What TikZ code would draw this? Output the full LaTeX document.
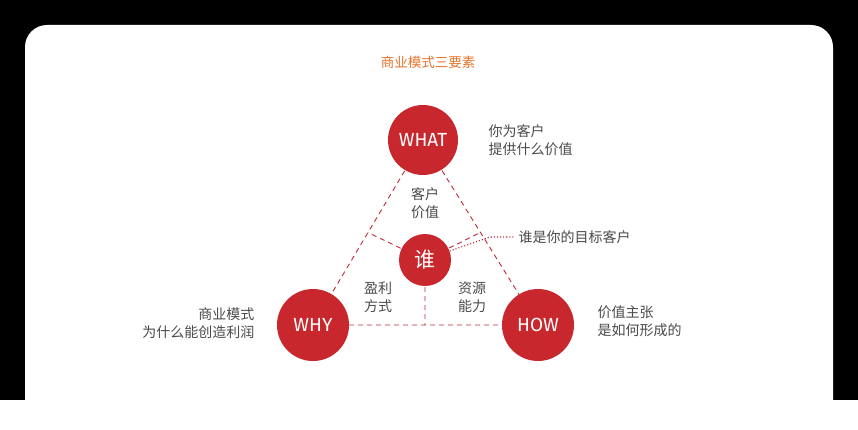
\documentclass[tikz,border=0pt]{standalone}
\usepackage{fontspec}
\setmainfont{Noto Sans}
\newfontfamily\cjk{Noto Sans CJK SC}
\newfontfamily\cnd{Fira Sans}
\usetikzlibrary{calc}
\definecolor{cred}{HTML}{C8272D}
\definecolor{lred}{HTML}{C02A3A}
\definecolor{tgray}{HTML}{4A4A4A}
\definecolor{torange}{HTML}{E8742A}
\begin{document}
\begin{tikzpicture}[x=1pt,y=-1pt,
  ball/.style={circle,fill=cred,text=white,inner sep=0pt,font=\fontsize{19}{19}\selectfont},
  dl/.style={draw=lred,dashed,dash pattern=on 5pt off 4pt,line width=0.9pt},
  lab/.style={text=tgray,font=\cjk\fontsize{14}{18}\selectfont,align=left}]
\fill[black] (0,0) rectangle (858,400);
\fill[white,rounded corners=22pt] (25,25) rectangle (833,430);
\useasboundingbox (0,0) rectangle (858,400);
\node[text=torange,font=\cjk\fontsize{13.5}{15}\selectfont] (t) at (428,62) {商业模式三要素};
\coordinate (pw) at (423,140);
\coordinate (py) at (313,325);
\coordinate (ph) at (538,325);
\coordinate (pc) at (425,260);
\coordinate (ml) at ($(pw)!0.5!(py)$);
\coordinate (mr) at ($(pw)!0.5!(ph)$);
\coordinate (mb) at (425,325);
\draw[dl] (pw)--(py) (pw)--(ph) (py)--(ph);
\draw[dl] (pc)--(ml) (pc)--(mr) (pc)--(mb);
\node[ball,minimum size=70pt] (what) at (pw) {\cnd WHAT};
\node[ball,minimum size=72pt] (why) at (py) {\cnd WHY};
\node[ball,minimum size=72pt] (how) at (ph) {\cnd HOW};
\node[ball,minimum size=52pt,font=\cjk\fontsize{21}{21}\selectfont] (who) at (pc) {谁};
\coordinate (dk) at (490,237);
\node[lab,anchor=west] (whot) at (515,237) {谁是你的目标客户};
\draw[lred,dotted,line width=1.1pt] (who.20)--(dk)--(whot.west);
\node[lab,align=center] (v) at (425,203) {客户\\价值};
\node[lab,align=center] (p) at (378,297) {盈利\\方式};
\node[lab,align=center] (r) at (472,297) {资源\\能力};
\node[lab,anchor=west] (wt) at (485,140) {你为客户\\提供什么价值};
\node[lab,anchor=east,align=right] (yt) at (258,323) {商业模式\\为什么能创造利润};
\node[lab,anchor=west] (ht) at (594,321) {价值主张\\是如何形成的};
\end{tikzpicture}
\end{document}
